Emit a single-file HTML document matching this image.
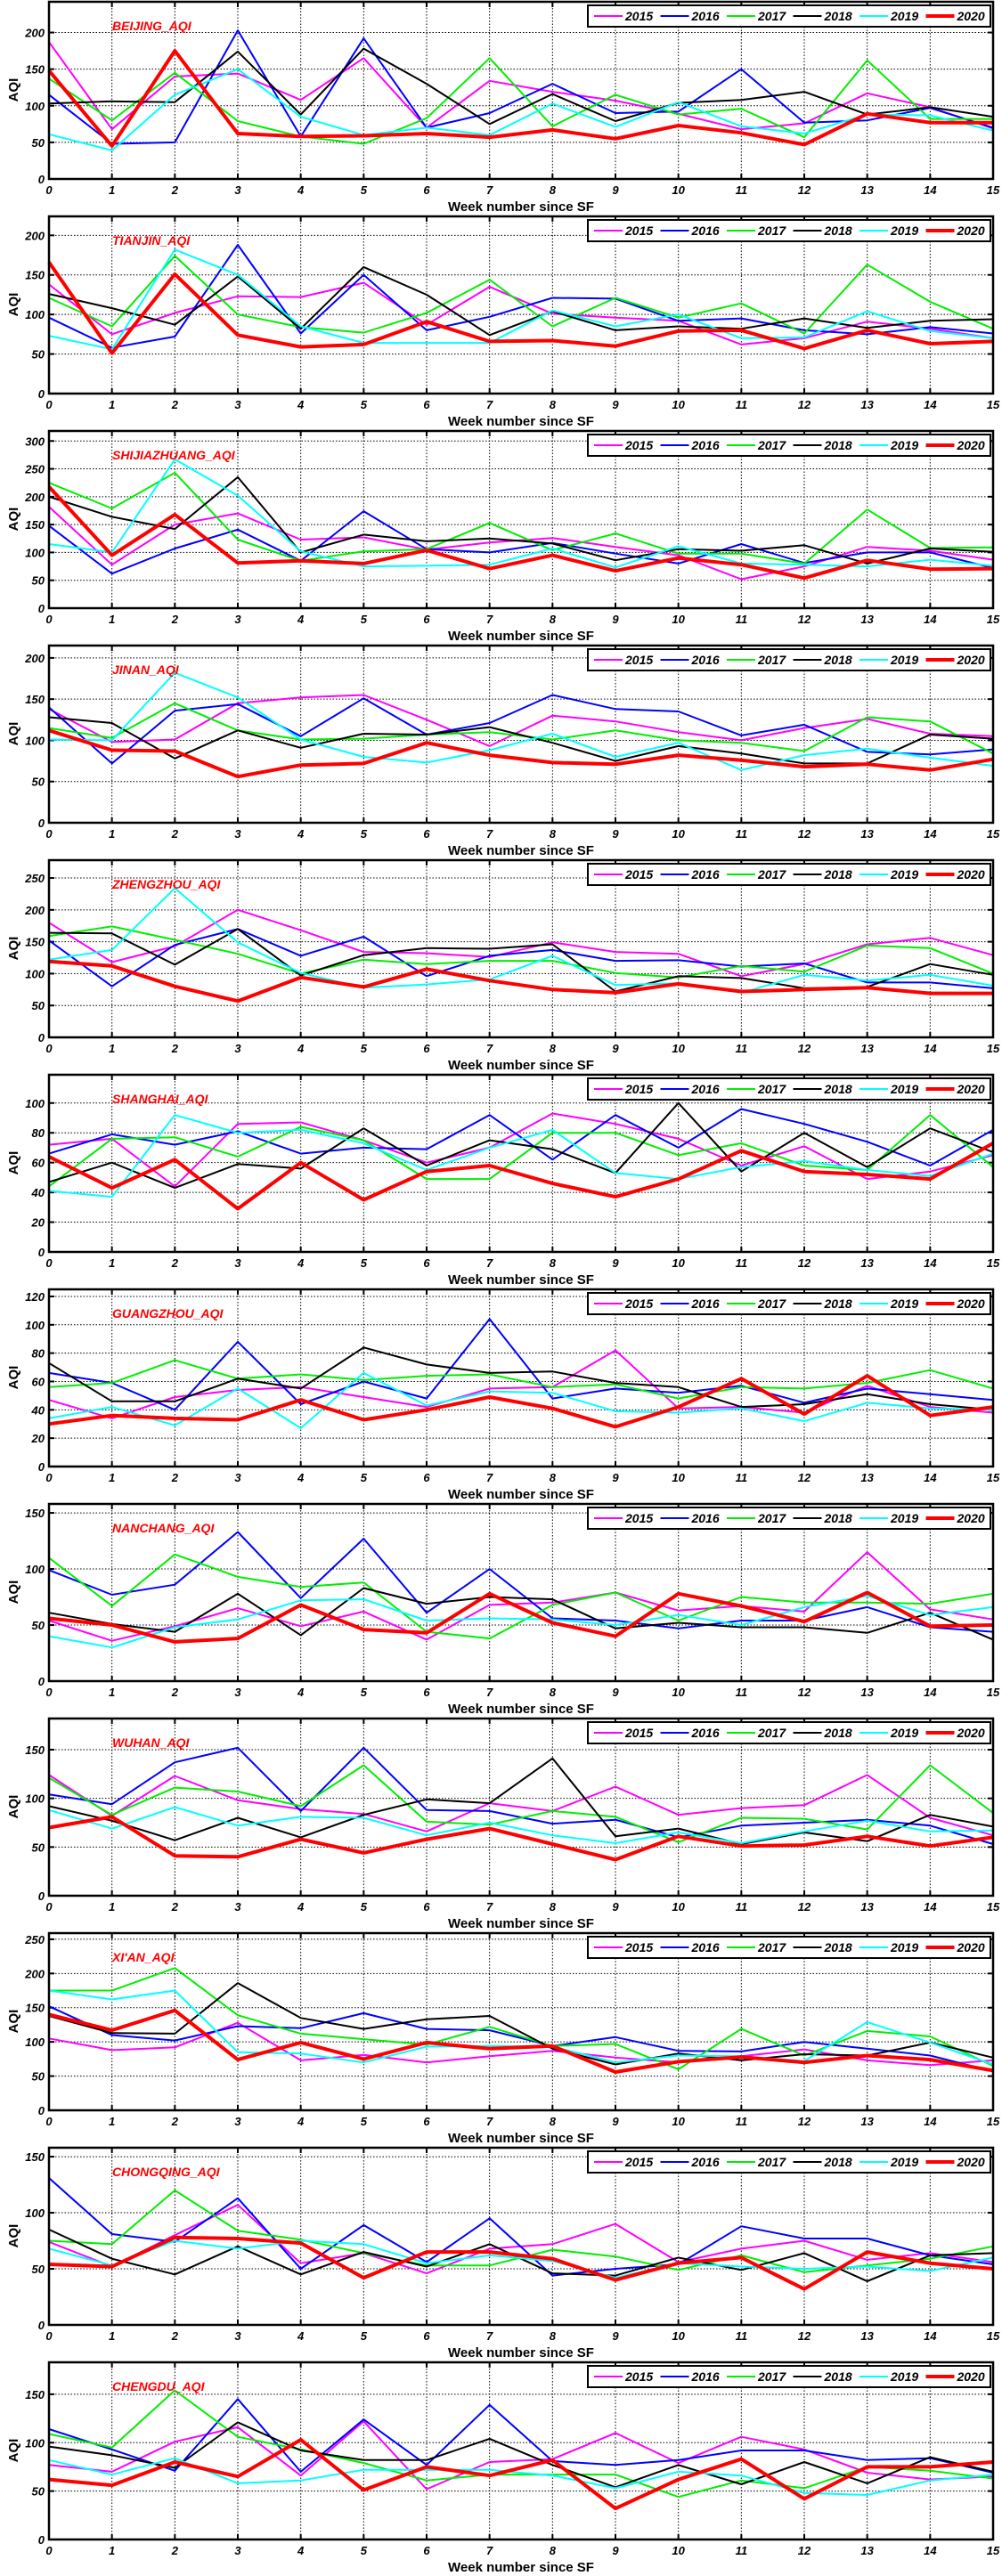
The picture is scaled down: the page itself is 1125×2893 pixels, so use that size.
<!DOCTYPE html>
<html><head><meta charset="utf-8">
<style>
html,body{margin:0;padding:0;background:#fff;}
svg{display:block;}
text{font-family:"Liberation Sans",Arial,sans-serif;}
</style></head>
<body>
<svg id="chart" width="1125" height="2893" viewBox="0 0 1125 2893" xmlns="http://www.w3.org/2000/svg"></svg>
<script>
// ---- data ----
const weeks = [0,1,2,3,4,5,6,7,8,9,10,11,12,13,14,15];
const years = ["2015","2016","2017","2018","2019","2020"];
const colors = ["#ff00ff","#0000ff","#00ee00","#000000","#00ffff","#ff0000"];
const cities = ["BEIJING","TIANJIN","SHIJIAZHUANG","JINAN","ZHENGZHOU","SHANGHAI","GUANGZHOU","NANCHANG","WUHAN","XI'AN","CHONGQING","CHENGDU"];
const yMaxes = [242,224,318,215,278,119,125,158,182,259,158,183];
const yTickSteps = [50,50,50,50,50,20,20,50,50,50,50,50];
const xTickLabels = ["0","1","2","3","4","5","6","7","8","9","10","11","12","13","14","15"];

const beijing = [
 [187,68,140,144,108,165,70,134,119,107,89,68,76,117,98,69],
 [115,48,50,203,58,192,70,90,130,90,92,150,77,80,97,70],
 [137,80,145,79,58,48,83,165,72,115,88,96,57,162,82,82],
 [103,106,105,174,88,178,130,75,116,79,104,108,119,88,98,85],
 [61,39,115,150,85,60,70,60,103,71,105,72,62,88,87,66],
 [148,45,175,62,58,59,62,57,67,55,73,63,47,89,77,77]];
const tianjin = [
 [138,75,102,123,122,140,87,135,101,96,92,62,70,91,82,70],
 [96,58,72,188,76,150,80,97,121,120,92,95,80,75,84,76],
 [121,85,174,100,84,77,102,144,85,121,96,114,76,163,116,82],
 [126,108,87,148,82,160,125,74,104,80,85,82,95,83,92,94],
 [73,56,182,150,85,64,64,64,105,85,100,70,71,104,79,70],
 [166,51,151,74,59,62,91,66,67,60,79,80,57,80,63,66]];
const shijiazhuang = [
 [182,78,150,170,123,127,105,118,126,110,95,52,75,110,103,87],
 [148,62,107,141,85,174,106,100,117,98,80,115,81,100,100,72],
 [225,179,243,123,85,102,106,153,104,134,98,98,80,177,108,109],
 [200,164,142,235,100,132,120,125,116,86,106,103,113,80,107,101],
 [115,100,267,202,102,75,76,78,107,73,111,80,78,75,87,76],
 [218,95,168,81,85,80,104,71,95,67,90,78,54,86,70,71]];
const jinan = [
 [138,98,101,145,152,155,125,93,130,123,110,100,115,126,108,105],
 [140,72,136,144,105,151,107,121,155,138,135,106,119,86,83,89],
 [115,103,145,112,101,102,107,110,101,112,100,97,87,128,123,84],
 [128,121,78,112,91,108,107,116,97,75,93,84,72,72,107,102],
 [101,100,182,152,101,80,73,88,108,80,97,64,82,90,79,69],
 [112,88,87,56,70,72,97,82,73,71,82,76,68,71,64,77]];
const zhengzhou = [
 [180,118,143,200,168,134,132,126,149,134,131,96,115,146,156,129],
 [152,80,145,170,128,158,96,128,137,120,121,111,116,86,86,77],
 [159,174,153,131,100,122,115,120,120,101,94,112,103,144,140,100],
 [164,163,114,170,97,129,140,139,146,72,96,93,77,79,115,98],
 [122,137,234,149,101,78,83,91,128,82,85,70,98,89,98,81],
 [119,112,80,57,94,79,107,89,75,70,84,72,75,78,69,69]];
const shanghai = [
 [72,76,44,86,87,75,60,70,93,86,76,58,71,49,54,65],
 [66,79,72,81,66,70,69,92,62,92,70,96,86,74,58,82],
 [44,76,77,64,84,75,49,49,80,80,65,73,58,55,92,57],
 [47,60,43,59,56,83,58,75,69,53,100,54,80,57,83,67],
 [41,37,92,80,82,73,55,70,82,53,49,57,61,55,51,66],
 [64,43,62,29,60,35,54,58,46,37,49,68,54,52,49,73]];
const guangzhou = [
 [47,34,49,54,56,49,42,55,56,82,41,42,38,57,42,38],
 [66,59,40,88,44,60,48,104,48,55,52,57,45,55,51,47],
 [56,59,75,62,65,61,64,65,56,58,48,56,55,59,68,55],
 [73,46,46,62,55,84,72,66,67,59,56,42,44,51,44,40],
 [34,42,29,55,27,66,43,53,52,39,38,41,32,45,41,40],
 [30,36,34,33,47,33,40,49,41,28,42,62,37,64,36,42]];
const nanchang = [
 [54,36,49,65,49,62,37,68,70,79,63,67,62,115,64,55],
 [99,77,86,133,74,127,61,100,56,54,47,54,54,66,48,44],
 [110,67,113,93,84,88,44,38,68,79,54,75,70,70,69,78],
 [61,51,44,78,41,83,69,75,73,47,52,48,48,43,61,37],
 [40,30,48,55,72,73,54,56,55,50,59,50,66,76,59,66],
 [56,50,35,38,68,46,43,78,52,40,78,67,53,79,49,50]];
const wuhan = [
 [124,82,123,98,89,84,66,95,87,112,83,90,93,124,80,62],
 [104,94,137,152,87,152,88,87,74,78,60,72,75,78,72,53],
 [121,83,111,107,92,134,76,73,87,81,55,80,79,68,134,85],
 [92,77,57,80,60,83,99,95,141,61,69,53,65,56,83,71],
 [88,69,91,72,81,80,62,75,62,54,65,54,66,77,66,67],
 [70,81,41,40,58,44,58,69,53,37,61,51,52,61,51,60]];
const xian = [
 [105,88,92,128,73,81,70,79,87,77,70,79,89,73,66,73],
 [152,110,102,123,120,142,119,117,94,107,87,86,100,90,80,57],
 [175,175,208,139,112,104,96,122,94,97,60,119,80,116,108,65],
 [138,113,112,186,135,119,133,138,90,67,83,73,82,80,99,77],
 [175,162,175,85,83,70,93,94,93,70,80,79,72,129,99,67],
 [140,117,146,74,99,75,99,90,94,56,71,78,70,80,74,58]];
const chongqing = [
 [74,52,80,107,55,64,46,68,72,90,56,68,75,58,64,56],
 [131,81,74,113,50,89,56,95,44,50,54,88,77,77,62,54],
 [75,72,120,84,76,64,53,53,67,61,49,62,47,53,59,70],
 [85,59,45,70,45,65,52,72,46,44,60,49,64,39,62,64],
 [68,53,75,68,75,72,55,62,57,42,55,52,50,52,48,60],
 [54,52,78,77,73,42,65,65,59,40,55,60,32,65,55,50]];
const chengdu = [
 [77,70,101,116,66,122,52,80,83,110,79,106,93,69,62,65],
 [114,93,71,145,70,124,77,139,81,77,82,92,92,82,84,69],
 [109,95,154,106,93,79,61,67,67,67,44,61,53,75,71,63],
 [96,87,74,121,92,82,82,104,77,54,77,57,80,58,85,70],
 [82,67,84,58,61,72,72,72,66,53,70,66,48,46,61,67],
 [62,56,80,65,103,51,75,66,82,32,62,83,42,75,75,80]];
const cityData = [beijing,tianjin,shijiazhuang,jinan,zhengzhou,shanghai,guangzhou,nanchang,wuhan,xian,chongqing,chengdu];

// ---- drawing ----
const NS = "http://www.w3.org/2000/svg";
const svg = document.getElementById("chart");
const PITCH = 241, L = 55, R = 1115, T = 2, B = 201;
function mk(tag, attrs, parent){
  const e = document.createElementNS(NS, tag);
  for (const k in attrs) e.setAttribute(k, attrs[k]);
  parent.appendChild(e);
  return e;
}
function xScale(w){ return L + (w - weeks[0]) / (weeks[weeks.length-1] - weeks[0]) * (R - L); }

cities.forEach((city, ci) => {
  const g = mk("g", {transform: "translate(0," + (ci * PITCH) + ")"}, svg);
  
  
  const ymax = yMaxes[ci];
  const yScale = v => B - v / ymax * (B - T);

  const bg = mk("rect", {x: L, y: T, width: R - L, height: B - T, fill: "#fff"}, g);
  
  

  // vertical grid + x ticks
  weeks.forEach((w, i) => {
    const x = xScale(w);
    if (i > 0 && i < weeks.length - 1) {
      const gl = mk("line", {x1: x, x2: x, y1: T, y2: B, stroke: "#000", "stroke-width": 1, "stroke-dasharray": "1.5,2"}, g);
      
      
      mk("line", {x1: x, x2: x, y1: T, y2: T + 6, stroke: "#000", "stroke-width": 2}, g);
      mk("line", {x1: x, x2: x, y1: B, y2: B - 6, stroke: "#000", "stroke-width": 2}, g);
    }
    const t = mk("text", {x: x, y: 218, "text-anchor": "middle", "font-size": 13, "font-weight": "bold", "font-style": "italic"}, g);
    t.textContent = xTickLabels[i];
    
    
  });
  // horizontal grid + y ticks
  const step = yTickSteps[ci];
  for (let v = 0; v <= ymax; v += step) {
    const y = yScale(v);
    if (v > 0) {
      const gl = mk("line", {x1: L, x2: R, y1: y, y2: y, stroke: "#000", "stroke-width": 1, "stroke-dasharray": "1.5,2"}, g);
      
      
      mk("line", {x1: L, x2: L + 6, y1: y, y2: y, stroke: "#000", "stroke-width": 2}, g);
      mk("line", {x1: R, x2: R - 6, y1: y, y2: y, stroke: "#000", "stroke-width": 2}, g);
    }
    const t = mk("text", {x: 50, y: y + 5, "text-anchor": "end", "font-size": 13, "font-weight": "bold", "font-style": "italic"}, g);
    t.textContent = String(v);
    
    
  }
  // series
  const data = cityData[ci];
  data.forEach((series, si) => {
    const pts = series.map((v, i) => xScale(weeks[i]).toFixed(1) + "," + yScale(v).toFixed(1)).join(" ");
    const pl = mk("polyline", {points: pts, fill: "none", stroke: colors[si], "stroke-width": si === 5 ? 4 : 2, "stroke-linejoin": "round"}, g);
    
    
  });
  // frame
  const fr = mk("rect", {x: L, y: T, width: R - L, height: B - T, fill: "none", stroke: "#000", "stroke-width": 2.5}, g);
  
  
  // title
  const ti = mk("text", {x: 126, y: 34, "font-size": 14, "font-weight": "bold", "font-style": "italic", fill: "#ff0000"}, g);
  ti.textContent = city + "_AQI";
  
  
  // axis titles
  const yl = mk("text", {x: 0, y: 0, transform: "translate(20,101) rotate(-90)", "text-anchor": "middle", "font-size": 15, "font-weight": "bold"}, g);
  yl.textContent = "AQI";
  
  
  const xl = mk("text", {x: 585, y: 237, "text-anchor": "middle", "font-size": 15, "font-weight": "bold"}, g);
  xl.textContent = "Week number since SF";
  
  
  // legend
  const lg = mk("g", {}, g);
  
  
  mk("rect", {x: 660, y: 6, width: 452, height: 24, fill: "#fff", stroke: "#000", "stroke-width": 2}, lg);
  years.forEach((yr, si) => {
    const x0 = 667 + si * 74.5;
    const e = mk("g", {}, lg);
    
    
    mk("line", {x1: x0, x2: x0 + 32, y1: 18, y2: 18, stroke: colors[si], "stroke-width": si === 5 ? 4 : 2}, e);
    const t = mk("text", {x: x0 + 35, y: 23, "font-size": 14, "font-weight": "bold", "font-style": "italic"}, e);
    t.textContent = yr;
  });
});
</script>
</body></html>
